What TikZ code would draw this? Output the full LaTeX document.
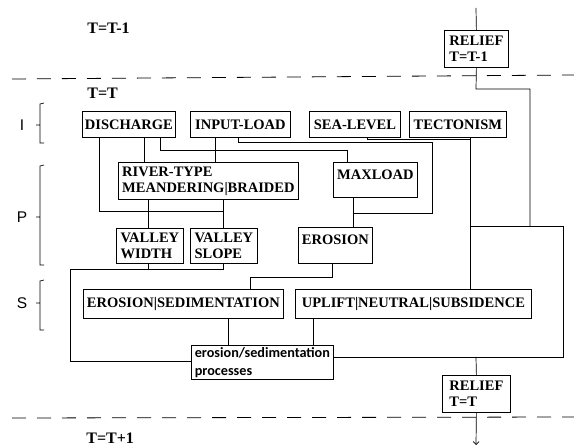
\documentclass[tikz,border=0pt]{standalone}
\usepackage{fontspec}
\setmainfont{Liberation Serif}
\newfontfamily\labfont{Liberation Sans}
\newfontfamily\procfont{Carlito}
\usetikzlibrary{arrows.meta}
\begin{document}
\begin{tikzpicture}[x=1pt,y=-1pt,line width=0.7pt,
  box/.style={draw,line width=0.8pt,inner xsep=2pt,inner ysep=0pt,anchor=north west,align=left,
    font=\bfseries\fontsize{14.5}{16}\selectfont},
  procbox/.style={draw,line width=0.8pt,inner xsep=2pt,inner ysep=0pt,anchor=north west,align=left,
    font=\procfont\bfseries\fontsize{14.2}{18}\selectfont},
  timelab/.style={anchor=west,inner sep=0pt,font=\bfseries\fontsize{16}{18}\selectfont},
  sidelab/.style={inner sep=0pt,font=\labfont\fontsize{15.5}{17}\selectfont},
  sep/.style={line width=0.8pt,dash pattern=on 14pt off 11pt},
  brace/.style={line width=0.7pt}]
\useasboundingbox (0,0) rectangle (574,446);

% separators and time labels
\draw[sep] (12,79) -- (574,75);
\draw[sep] (12,418) -- (574,417);
\node[timelab] (tm1) at (87,28) {T=T-1};
\node[timelab] (tt) at (87,93) {T=T};
\node[timelab] (tp1) at (86,438) {T=T+1};

% side labels with brackets
\node[sidelab] (lI) at (22,125) {I};
\node[sidelab] (lP) at (22,217) {P};
\node[sidelab] (lS) at (22,303) {S};
\draw[brace] (44,103) -- (40,104) -- (40,143) -- (44,143) (40,125) -- (36,125);
\draw[brace] (44,165) -- (40,166) -- (40,265) -- (44,265) (40,217) -- (36,217);
\draw[brace] (44,280) -- (40,281) -- (40,330) -- (44,330) (40,303) -- (36,303);

% boxes
\node[box,minimum width=64,minimum height=37] (relief1) at (444,30) {RELIEF\\T=T-1};
\node[box,minimum width=93,minimum height=26] (dis) at (82,111) {DISCHARGE};
\node[box,minimum width=100,minimum height=26] (inp) at (190,111) {INPUT-LOAD};
\node[box,minimum width=91,minimum height=26] (sea) at (309,111) {SEA-LEVEL};
\node[box,minimum width=97,minimum height=26] (tec) at (409,111) {TECTONISM};
\node[box,minimum width=180,minimum height=37] (river) at (118,162) {RIVER-TYPE\\MEANDERING|BRAIDED};
\node[box,minimum width=84,text height=17pt,text depth=18pt] (maxload) at (333,162) {MAXLOAD};
\node[box,minimum width=67,minimum height=35] (vw) at (116,228) {VALLEY\\WIDTH};
\node[box,minimum width=67,minimum height=35] (vs) at (190,228) {VALLEY\\SLOPE};
\node[box,minimum width=74,text height=17pt,text depth=19pt] (ero) at (298,227) {EROSION};
\node[box,minimum width=200,minimum height=29] (es) at (83,289) {EROSION|SEDIMENTATION};
\node[box,minimum width=236,minimum height=29] (up) at (295,289) {UPLIFT|NEUTRAL|SUBSIDENCE};
\node[procbox,minimum width=142,minimum height=34] (proc) at (191,345) {erosion/sedimentation\\processes};
\node[box,minimum width=68,minimum height=37] (relief2) at (442,375) {RELIEF\\T=T};

% bend points
\coordinate (top) at (476,8);
\coordinate (r1) at (476,89);
\coordinate (r2) at (530,89);
\coordinate (r3) at (530,226);
\coordinate (h1) at (470,226);
\coordinate (h2) at (563,226);
\coordinate (h3) at (563,357);
\coordinate (s1) at (367,139);
\coordinate (rv) at (476,357);
\coordinate (bot) at (476,445);
\coordinate (d1) at (99,211);
\coordinate (d2) at (144,150);
\coordinate (d3) at (160,150);
\coordinate (m1) at (347,150);
\coordinate (i1) at (215,150);
\coordinate (i2) at (238,142);
\coordinate (i3) at (432,142);
\coordinate (i4) at (432,213);
\coordinate (mx) at (353,213);
\coordinate (rw) at (148,269);
\coordinate (vsl) at (223,269);
\coordinate (l1) at (70,269);
\coordinate (l2) at (70,361);
\coordinate (e1) at (332,277);
\coordinate (e2) at (250,277);
\coordinate (p1) at (228,330);
\coordinate (p2) at (313,330);

% connectors
\draw (top) -- (relief1.north);
\draw (relief1.south) -- (r1) -- (r2) -- (r3);
\draw (h1) -- (h2) -- (h3) -- (proc.east |- h3);
\draw (tec.south -| h1) -- (up.north -| h1);
\draw (sea.south -| s1) -- (s1) -- (s1 -| h1);
\draw (rv) -- (relief2.north);
\draw[-{Straight Barb[length=3pt,width=6pt]}] (relief2.south) -- (bot);

\draw (dis.south -| d1) -- (d1) -- (d1 -| vsl);
\draw (dis.south -| d2) -- (river.north -| d2);
\draw (dis.south -| d3) -- (d3) -- (m1) -- (maxload.north -| m1);
\draw (inp.south -| i1) -- (river.north -| i1);
\draw (inp.south -| i2) -- (i2) -- (i3) -- (i4) -- (mx);
\draw (maxload.south -| mx) -- (ero.north -| mx);

\draw (river.south -| rw) -- (vw.north -| rw);
\draw (river.south -| vsl) -- (vs.north -| vsl);
\draw (vw.south -| rw) -- (rw);
\draw (vs.south -| vsl) -- (vsl) -- (l1) -- (l2) -- (proc.west |- l2);

\draw (ero.south -| e1) -- (e1) -- (e2) -- (es.north -| e2);
\draw (es.south -| p1) -- (proc.north -| p1);
\draw (up.south -| p2) -- (proc.north -| p2);
\end{tikzpicture}
\end{document}
